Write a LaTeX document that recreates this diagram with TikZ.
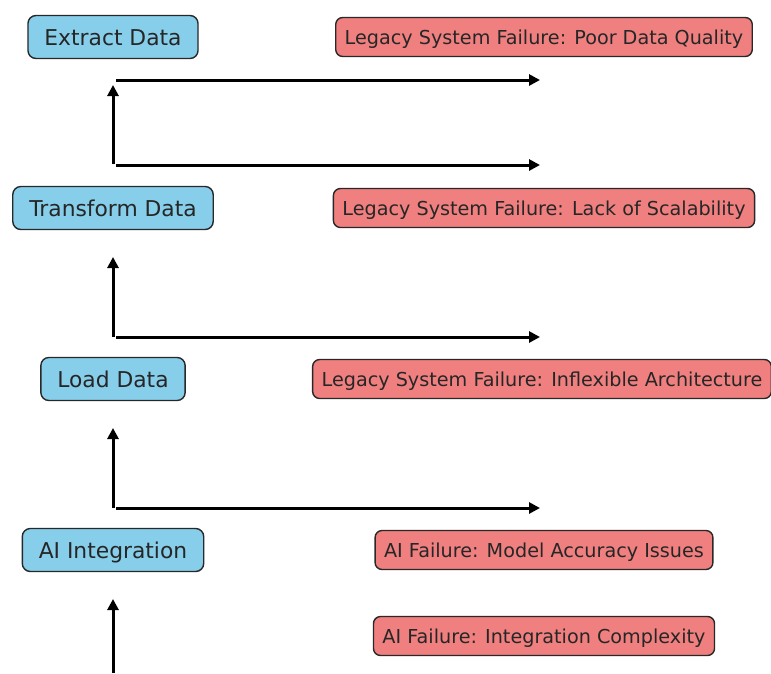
\documentclass[tikz,border=0pt]{standalone}
\usepackage{fontspec}
\setmainfont{DejaVu Sans}
\usetikzlibrary{arrows.meta}
\definecolor{stepblue}{RGB}{135,206,235}
\definecolor{failred}{RGB}{240,128,128}
\definecolor{edgegray}{RGB}{40,40,40}

\begin{document}
\begin{tikzpicture}[x=1pt,y=-1pt]
		\tikzstyle{box}=[draw=edgegray,line width=1.4pt,text=black!85,text depth=0pt]
		\tikzstyle{step box}=[box,fill=stepblue,rounded corners=8pt,minimum height=43pt,inner xsep=16.5pt,text height=16pt,font=\fontsize{21.8}{26}\selectfont]
		\tikzstyle{fail box}=[box,fill=failred,rounded corners=7pt,minimum height=39pt,inner xsep=9pt,text height=14pt,font=\fontsize{19.2}{23}\selectfont]
		\tikzstyle{flow}=[line width=3pt,-{Triangle[length=11pt,width=11pt]}]
		
		\useasboundingbox (0,0) rectangle (771,673);
		
		% Draw the pipeline steps
		\node[step box] (extract) at (113,37) {Extract Data};
		\node[step box] (transform) at (113,208) {Transform Data};
		\node[step box] (load) at (113,379) {Load Data};
		\node[step box] (ai) at (113,550) {AI Integration};
		
		% Draw the failure nodes
		\node[fail box] (poorq) at (544,37) {Legacy System Failure: Poor Data Quality};
		\node[fail box] (scal) at (544,208) {Legacy System Failure: Lack of Scalability};
		\node[fail box] (inflex) at (542,379) {Legacy System Failure: Inflexible Architecture};
		\node[fail box] (accur) at (544,550) {AI Failure: Model Accuracy Issues};
		\node[fail box] (integ) at (544,636) {AI Failure: Integration Complexity};
		
		% Horizontal arrows towards the failures
		\foreach \i/\y in {1/80,2/165,3/337,4/508}{
			\coordinate (H\i-a) at (116,\y);
			\coordinate (H\i-b) at (540,\y);
			\draw[flow] (H\i-a) -- (H\i-b);
		}
		
		% Vertical arrows up the pipeline
		\foreach \i/\ya/\yb in {1/164/85,2/337/257,3/508/428,4/673/599}{
			\coordinate (V\i-a) at (113,\ya);
			\coordinate (V\i-b) at (113,\yb);
			\draw[flow] (V\i-a) -- (V\i-b);
		}
	\end{tikzpicture}
\end{document}
